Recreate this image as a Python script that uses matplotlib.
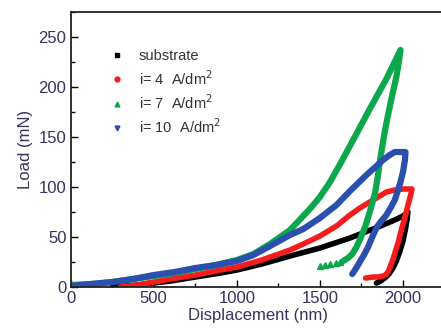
import matplotlib
matplotlib.use("Agg")
import matplotlib.pyplot as plt
from matplotlib.lines import Line2D
from matplotlib.ticker import MultipleLocator

plt.rcParams['font.family'] = ['Liberation Sans', 'DejaVu Sans']

# values (displacement nm, load mN)
sub_x = [250, 400, 500, 600, 750, 900, 1000, 1150, 1320, 1500, 1681, 1850,
         1950, 2000, 2030,
         2025, 2015, 2000, 1980, 1960, 1940, 1915, 1890, 1865, 1840]
sub_y = [0, 2, 4, 6, 10, 14, 17, 23, 31, 39, 49, 60,
         67, 71, 75,
         68, 58, 46, 35, 26, 19, 13, 9, 6, 4]

i4_x = [300, 400, 500, 600, 750, 900, 1000, 1150, 1320, 1400, 1500, 1600,
        1681, 1750, 1800, 1850, 1900, 1950, 2000, 2054,
        2048, 2040, 2030, 2015, 1995, 1970, 1955, 1940, 1925, 1910, 1895,
        1880, 1850, 1820, 1775]
i4_y = [0, 2, 5, 8, 12, 17, 20, 27, 37, 43, 51, 61,
        72, 80, 85, 90, 95, 97, 98, 98,
        93, 88, 82, 72, 60, 44, 36, 28, 21, 15, 12,
        11, 10, 10, 9]

i7_x = [0, 125, 250, 375, 500, 625, 750, 875, 1000, 1100, 1200, 1320, 1400,
        1450, 1500, 1561, 1632, 1700, 1800, 1900, 1985,
        1975, 1960, 1933, 1910, 1890, 1862, 1850, 1832, 1800, 1772, 1745,
        1720, 1695, 1669, 1640]
i7_y = [2, 3, 5, 8, 11, 14, 18, 22, 27, 33, 43, 57, 71,
        80, 90, 105, 126, 147, 178, 208, 237,
        225, 210, 190, 172, 155, 127, 112, 94, 75, 60, 49,
        40, 33, 29, 26]
i7_tail_x = [1500, 1530, 1561, 1595, 1621]
i7_tail_y = [21, 22, 23, 24, 25]

i10_x = [0, 125, 250, 375, 500, 625, 750, 875, 1000, 1100, 1200, 1320, 1400,
         1500, 1600, 1681, 1780, 1880, 1920, 1950, 2015,
         2012, 2000, 1985, 1951, 1925, 1900, 1870, 1843, 1815, 1790, 1765,
         1740, 1715, 1695]
i10_y = [1, 3, 5, 8, 12, 15, 19, 22, 26, 32, 41, 52, 58,
         69, 82, 96, 112, 127, 132, 135, 135,
         127, 115, 105, 87, 79, 72, 66, 60, 50, 40, 32,
         25, 18, 13]

labels = ['substrate', 'i= 4  A/dm$^2$', 'i= 7  A/dm$^2$', 'i= 10  A/dm$^2$']
colors = ['#000000', '#f41c1c', '#0aa84a', '#2a4fae']
markers = ['s', 'o', '^', 'v']

txt = '#3a3060'
style = dict(solid_joinstyle='round', solid_capstyle='round')

fig = plt.figure(figsize=(4.41, 3.33), dpi=100)
ax = fig.add_axes([0.16, 0.138, 0.848, 0.826])

ax.plot(sub_x, sub_y, color=colors[0], lw=4, **style)
ax.plot(i4_x, i4_y, color=colors[1], lw=4, **style)
ax.plot(i7_x, i7_y, color=colors[2], lw=4.5, **style)
ax.plot(i7_tail_x, i7_tail_y, color=colors[2], marker='^', ms=5, ls='none')
ax.plot(i10_x, i10_y, color=colors[3], lw=4.5, **style)

ax.set_xlim(0, 2250)
ax.set_ylim(0, 275)
ax.xaxis.set_major_locator(MultipleLocator(500))
ax.xaxis.set_minor_locator(MultipleLocator(250))
ax.yaxis.set_major_locator(MultipleLocator(50))
ax.yaxis.set_minor_locator(MultipleLocator(25))
ax.tick_params(which='major', direction='in', length=5, width=1, labelsize=12,
               labelcolor=txt, pad=3)
ax.tick_params(which='minor', direction='in', length=3, width=1)
for s in ax.spines.values():
    s.set_linewidth(1.3)
    s.set_color('#222222')

ax.set_xlabel('Displacement (nm)', fontsize=12, color=txt, labelpad=1)
ax.set_ylabel('Load (mN)', fontsize=12, color=txt, labelpad=4)

handles = [Line2D([], [], color=c, marker=m, ls='none', ms=3.5)
           for c, m in zip(colors, markers)]
leg = ax.legend(handles, labels, loc='upper left', bbox_to_anchor=(0.07, 0.912),
                frameon=False, fontsize=10.5, labelspacing=0.38,
                handletextpad=1.0, handlelength=1.0)
for t in leg.get_texts():
    t.set_color('#333333')

fig.savefig('out.png', dpi=100)
